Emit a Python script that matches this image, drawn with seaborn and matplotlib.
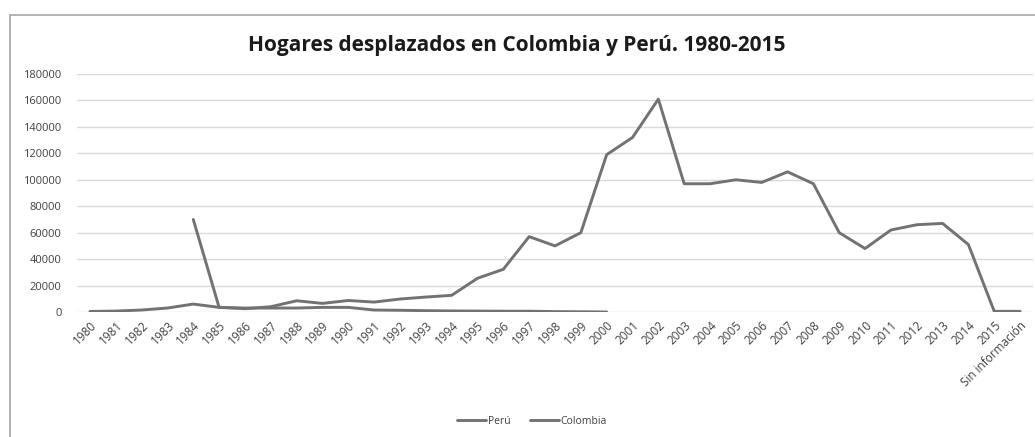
import matplotlib
matplotlib.use("Agg")
import matplotlib.pyplot as plt
import seaborn as sns
import pandas as pd
import numpy as np
from matplotlib.patches import Rectangle

categories = [str(y) for y in range(1980, 2016)] + ["Sin información"]

colombia = [400, 700, 1500, 3000, 6000, 3500, 2500, 4000, 8500, 6500,
            8700, 7500, 9800, 11300, 12600, 25500, 32300, 57000, 50000, 60000,
            119000, 132000, 161000, 97000, 97000, 100000, 98000, 106000, 97000, 60000,
            48000, 62000, 66000, 67000, 51000, 500, 500]

peru_years = [str(y) for y in range(1984, 2001)]
peru = [70000, 3500, 3000, 3000, 3000, 3500, 3500, 1500, 1300, 1000,
        800, 700, 600, 600, 300, 200, 0]

yticks = list(range(0, 180001, 20000))

sns.set_theme(style="white")
plt.rcParams['font.family'] = ['Open Sans', 'DejaVu Sans']

pos = {c: i for i, c in enumerate(categories)}
df = pd.concat([
    pd.DataFrame({"cat": peru_years, "valor": peru, "serie": "Perú"}),
    pd.DataFrame({"cat": categories, "valor": colombia, "serie": "Colombia"}),
])
df["x"] = df["cat"].map(pos)

fig = plt.figure(figsize=(10.35, 4.37), dpi=100)
ax = fig.add_axes([77/1035, 1-312/437, (1033-77)/1035, (312-74)/437])

sns.lineplot(data=df, x="x", y="valor", hue="serie", hue_order=["Perú", "Colombia"],
             palette={"Perú": "#727272", "Colombia": "#727272"}, linewidth=2.1,
             ax=ax, legend=True, sort=True)

ax.set_xlim(-0.5, len(categories) - 0.5)
ax.set_ylim(0, 180000)
ax.set_yticks(yticks)
ax.set_yticklabels([str(v) for v in yticks], fontsize=8, color="#404040")
ax.set_xticks(range(len(categories)))
ax.set_xticklabels(categories, rotation=45, ha="right", rotation_mode="anchor",
                   fontsize=8.5, color="#404040")
ax.tick_params(axis="y", length=0, pad=11)
ax.tick_params(axis="x", length=0, pad=5)
ax.grid(axis="y", color="#d9d9d9", linewidth=1)
ax.set_axisbelow(True)
for s in ax.spines.values():
    s.set_visible(False)
ax.set_xlabel("")
ax.set_ylabel("")

ax.legend(loc="center", bbox_to_anchor=(532/1035, (437-421)/437),
          bbox_transform=fig.transFigure, ncol=2, frameon=False, fontsize=7.5,
          handlelength=2.8, handletextpad=0.2, columnspacing=1.8,
          labelcolor="#404040")

fig.text(517/1035, 1 - 45/437, "Hogares desplazados en Colombia y Perú. 1980-2015",
         ha="center", va="center", fontsize=15, fontweight="bold", color="#1a1a1a",
         family=["Open Sans", "DejaVu Sans"])

fig.patches.append(Rectangle((10/1035, -0.1), 1.2, 1.1 - 15/437,
                             transform=fig.transFigure, fill=False,
                             edgecolor="#a6a6a6", linewidth=1.2))

fig.savefig("out.png", dpi=100)
